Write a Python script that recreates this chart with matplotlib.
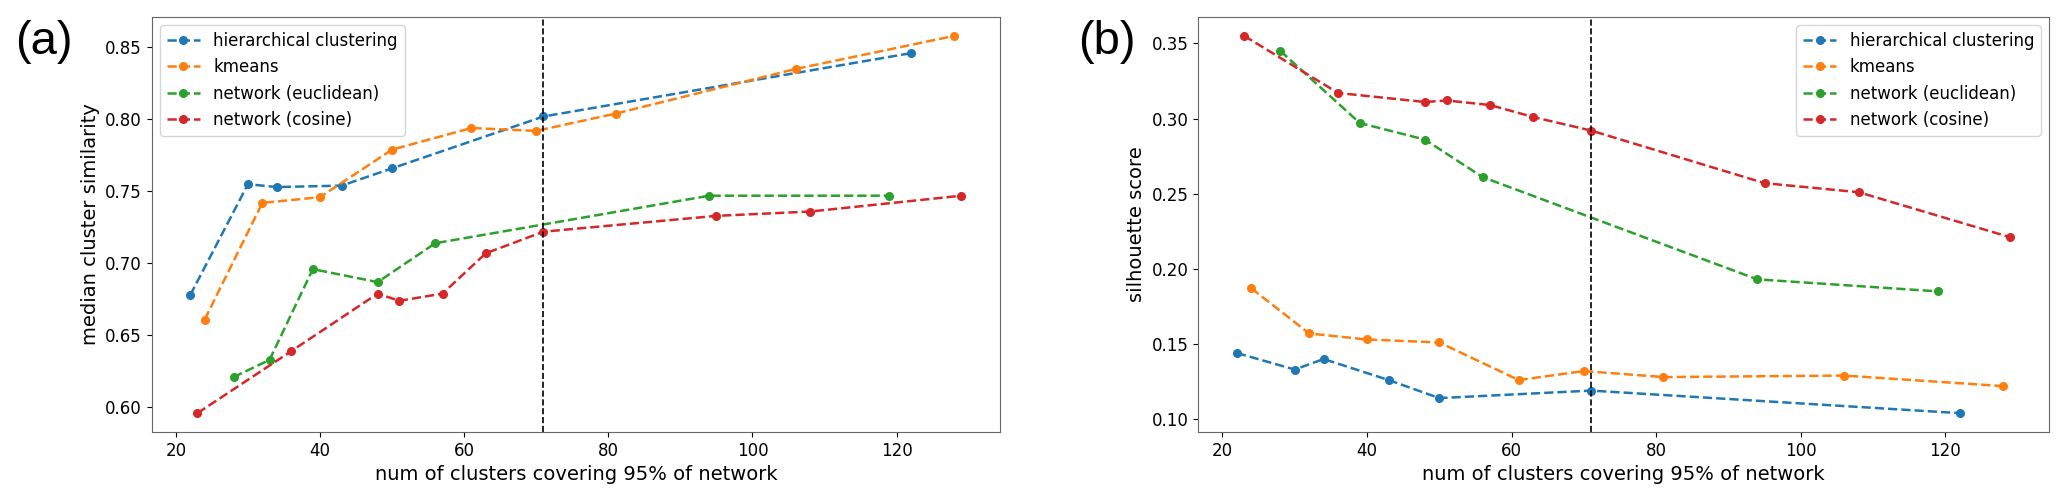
import numpy as np
import matplotlib
matplotlib.use('Agg')
import matplotlib.pyplot as plt

# panel (a): median cluster similarity
hc_x_a = [22, 30, 34, 43, 50, 71, 122]
hc_y_a = [0.678, 0.755, 0.753, 0.754, 0.766, 0.802, 0.846]
km_x_a = [24, 32, 40, 50, 61, 70, 81, 106, 128]
km_y_a = [0.661, 0.742, 0.746, 0.779, 0.794, 0.792, 0.804, 0.835, 0.858]
eu_x_a = [28, 33, 39, 48, 56, 94, 119]
eu_y_a = [0.621, 0.633, 0.696, 0.687, 0.714, 0.747, 0.747]
co_x_a = [23, 36, 48, 51, 57, 63, 71, 95, 108, 129]
co_y_a = [0.596, 0.639, 0.679, 0.674, 0.679, 0.707, 0.722, 0.733, 0.736, 0.747]

# panel (b): silhouette score
hc_x_b = [22, 30, 34, 43, 50, 71, 122]
hc_y_b = [0.144, 0.133, 0.140, 0.126, 0.114, 0.119, 0.104]
km_x_b = [24, 32, 40, 50, 61, 70, 81, 106, 128]
km_y_b = [0.187, 0.157, 0.153, 0.151, 0.126, 0.132, 0.128, 0.129, 0.122]
eu_x_b = [28, 39, 48, 56, 94, 119]
eu_y_b = [0.345, 0.297, 0.286, 0.261, 0.193, 0.185]
co_x_b = [23, 36, 48, 51, 57, 63, 71, 95, 108, 129]
co_y_b = [0.355, 0.317, 0.311, 0.312, 0.309, 0.301, 0.292, 0.257, 0.251, 0.221]

labels = ['hierarchical clustering', 'kmeans', 'network (euclidean)', 'network (cosine)']
colors = ['#1f77b4', '#ff7f0e', '#2ca02c', '#d62728']
cutoff = 71
xlabel = 'num of clusters covering 95% of network'

plt.rcParams['font.family'] = ['DejaVu Sans']

fig = plt.figure(figsize=(20.67, 4.94), dpi=100)
ax_a = fig.add_axes([0.0734, 0.1255, 0.4104, 0.8401])
ax_b = fig.add_axes([0.5797, 0.1255, 0.4116, 0.8401])


def draw_panel(ax, series, ylabel, legend_loc):
    for (xs, ys), lab, c in zip(series, labels, colors):
        ax.plot(xs, ys, '--', marker='o', color=c, lw=1.8, ms=5.5, label=lab)
    # cutoff used in the paper
    ax.axvline(cutoff, color='k', ls='--', lw=1.2)
    ax.set_xlabel(xlabel, fontsize=14)
    ax.set_ylabel(ylabel, fontsize=14)
    ax.tick_params(labelsize=12)
    for s in ax.spines.values():
        s.set_color('0.4')
    ax.legend(loc=legend_loc, fontsize=12)


draw_panel(ax_a, [(hc_x_a, hc_y_a), (km_x_a, km_y_a), (eu_x_a, eu_y_a), (co_x_a, co_y_a)],
           'median cluster similarity', 'upper left')
ax_a.set_yticks([0.60, 0.65, 0.70, 0.75, 0.80, 0.85])

draw_panel(ax_b, [(hc_x_b, hc_y_b), (km_x_b, km_y_b), (eu_x_b, eu_y_b), (co_x_b, co_y_b)],
           'silhouette score', 'upper right')
ax_b.set_yticks([0.10, 0.15, 0.20, 0.25, 0.30, 0.35])

fig.text(0.0073, 0.9595, '(a)', fontsize=34, va='top', ha='left', family='Liberation Sans')
fig.text(0.5215, 0.9595, '(b)', fontsize=34, va='top', ha='left', family='Liberation Sans')

fig.savefig('out.png', dpi=100)
